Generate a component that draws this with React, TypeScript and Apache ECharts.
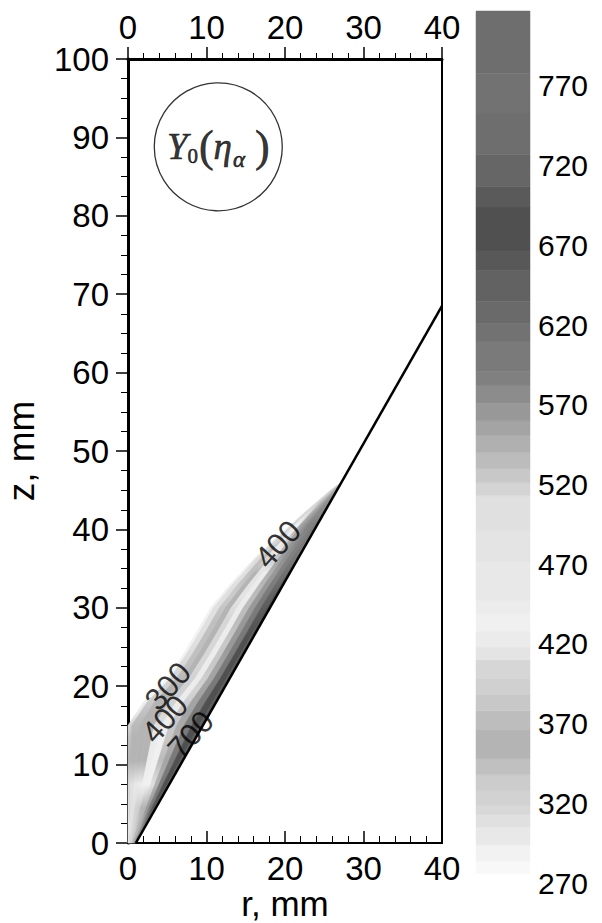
import React, { useEffect, useRef } from "react";
import * as echarts from "echarts";

// ---------- data ----------
const cbTickLabels = [270, 320, 370, 420, 470, 520, 570, 620, 670, 720, 770];

// cone wall (r, z)
const wallLine = [
  [1, 0],
  [40, 68.5],
];

// stations along z for the shaded band; outer edge radius at each station
const stationZ = [0, 3, 6, 9, 12, 15, 18, 21, 24, 27, 30, 33, 36, 39, 42, 45, 46];
const stationROuter = [0, 0, 0, 0, 0, 0, 2.0, 5.0, 7.0, 8.8, 10.5, 13.0, 15.8, 19.0, 22.3, 25.8, 27.2];

// field values across each band (between two stations) at 11 nodes, from the outer edge to the wall
const fieldNodes = [
  [300, 303, 308, 314, 322, 334, 348, 356, 560, 590, 615],
  [305, 308, 312, 320, 334, 350, 358, 560, 605, 665, 698],
  [314, 308, 300, 440, 436, 432, 510, 548, 592, 668, 700],
  [348, 352, 356, 350, 440, 432, 530, 552, 598, 678, 700],
  [342, 352, 360, 352, 420, 438, 522, 548, 592, 678, 700],
  [298, 338, 356, 355, 400, 440, 522, 552, 592, 672, 700],
  [290, 326, 350, 358, 395, 440, 518, 552, 592, 672, 695],
  [288, 318, 346, 358, 398, 440, 522, 558, 594, 672, 695],
  [288, 312, 342, 358, 402, 440, 528, 562, 596, 672, 695],
  [288, 310, 338, 358, 406, 440, 532, 564, 596, 662, 690],
  [288, 308, 334, 356, 410, 440, 536, 566, 594, 648, 682],
  [292, 310, 338, 354, 415, 440, 542, 566, 590, 618, 652],
  [296, 315, 342, 420, 440, 550, 570, 581, 587, 593, 606],
  [303, 325, 436, 438, 553, 569, 579, 584, 587, 591, 596],
  [306, 316, 330, 344, 542, 557, 569, 576, 579, 581, 583],
  [310, 314, 318, 326, 336, 346, 354, 545, 550, 555, 558],
];

// contour labels: r, z, text
const contourLabels = [
  [5.1, 20.0, "300"],
  [4.7, 15.8, "400"],
  [8.0, 13.8, "700"],
  [19.1, 38.1, "400"],
];

// annotation circle centre (r, z)
const circlePos = [[11.5, 88.8]];

// colour bar levels (boundaries) and greys
const cbBreaks = [
  276, 284, 294, 305, 313, 319, 328, 338, 348, 366, 378, 388, 398, 410, 418, 428, 439, 447, 472, 491,
  513, 521, 530, 540, 551, 560, 571, 582, 591, 610, 621, 635, 654, 667, 694, 707, 727, 753, 778, 817,
];
const cbColors = [
  "#f8f8f8", "#f2f2f2", "#e8e8e8", "#e0e0e0", "#d8d8d8", "#d2d2d2", "#cccccc", "#c0c0c0", "#b4b4b4",
  "#bdbdbd", "#c8c8c8", "#d0d0d0", "#d6d6d6", "#e4e4e4", "#ebebeb", "#f0f0f0", "#ececec", "#e8e8e8",
  "#e4e4e4", "#e0e0e0", "#d4d4d4", "#c8c8c8", "#bcbcbc", "#b0b0b0", "#a4a4a4", "#989898", "#8c8c8c",
  "#808080", "#7a7a7a", "#727272", "#6a6a6a", "#626262", "#585858", "#505050", "#5a5a5a", "#666666",
  "#6e6e6e", "#727272", "#6e6e6e",
];

const SANS = "Liberation Sans, Arial, sans-serif";
const SERIF = "Liberation Serif, Times New Roman, serif";

function colorOf(v: number) {
  if (v < cbBreaks[0]) return "#ffffff";
  for (let i = 0; i < cbColors.length; i++) {
    if (v >= cbBreaks[i] && v < cbBreaks[i + 1]) return cbColors[i];
  }
  return cbColors[cbColors.length - 1];
}

export default function App() {
  const ref = useRef<HTMLDivElement>(null);

  useEffect(() => {
    if (!ref.current) return;
    const chart = echarts.init(ref.current, null, { renderer: "svg" });

    const nNodes = fieldNodes[0].length;
    const nSt = stationZ.length;
    const zTop = stationZ[nSt - 1];
    const rWall = (z: number) =>
      wallLine[0][0] + ((z - wallLine[0][1]) * (wallLine[1][0] - wallLine[0][0])) / (wallLine[1][1] - wallLine[0][1]);

    // one strip per node column, running the whole length of the band
    const stripData = fieldNodes[0].map((_, j) => [j]);

    const cbData = cbColors.map((_, i) => [cbBreaks[i], cbBreaks[i + 1], (cbBreaks[i] + cbBreaks[i + 1]) / 2]);
    const pieces: any[] = cbColors.map((c, i) => ({ gte: cbBreaks[i], lt: cbBreaks[i + 1], color: c }));
    pieces.push({ lt: cbBreaks[0], color: "#ffffff" });

    const axisLabel = { color: "#000", fontFamily: SANS, fontSize: 33 };
    const serifBase = { fontFamily: SERIF, color: "#000", textBorderColor: "#000", textBorderWidth: 0.6 };

    chart.setOption({
      animation: false,
      backgroundColor: "#ffffff",
      grid: [
        { left: 128, top: 59, width: 314, height: 784, outerBoundsMode: "none", containLabel: false },
        { left: 476, top: 11, width: 54, height: 872, outerBoundsMode: "none", containLabel: false },
      ],
      visualMap: {
        type: "piecewise",
        show: false,
        dimension: 2,
        seriesIndex: [4],
        pieces,
      },
      xAxis: [
        {
          gridIndex: 0,
          type: "value",
          position: "bottom",
          min: 0,
          max: 40,
          interval: 10,
          name: "r, mm",
          nameLocation: "middle",
          nameGap: 45,
          nameMoveOverlap: false,
          nameTextStyle: { color: "#000", fontFamily: SANS, fontSize: 35, lineHeight: 30 },
          axisLine: { show: true, onZero: false, lineStyle: { color: "#000", width: 2 } },
          axisTick: { show: true, inside: true, length: 12, lineStyle: { color: "#000", width: 1.5 } },
          minorTick: { show: true, splitNumber: 5, length: 7, lineStyle: { color: "#000", width: 1 } },
          axisLabel: { ...axisLabel, margin: 9 },
          splitLine: { show: false },
          minorSplitLine: { show: false },
        },
        {
          gridIndex: 0,
          type: "value",
          position: "top",
          min: 0,
          max: 40,
          interval: 10,
          axisLine: { show: true, onZero: false, lineStyle: { color: "#000", width: 3 } },
          axisTick: { show: true, inside: false, length: 12, lineStyle: { color: "#000", width: 1.5 } },
          minorTick: { show: true, splitNumber: 5, length: 6, lineStyle: { color: "#000", width: 1 } },
          axisLabel: { ...axisLabel, margin: 15 },
          splitLine: { show: false },
        },
        { gridIndex: 1, type: "value", min: 0, max: 1, show: false },
      ],
      yAxis: [
        {
          gridIndex: 0,
          type: "value",
          position: "left",
          min: 0,
          max: 100,
          interval: 10,
          name: "z, mm",
          nameLocation: "middle",
          nameRotate: 90,
          nameGap: 88,
          nameMoveOverlap: false,
          nameTextStyle: { color: "#000", fontFamily: SANS, fontSize: 37 },
          axisLine: { show: true, onZero: false, lineStyle: { color: "#000", width: 3 } },
          axisTick: { show: true, inside: false, length: 12, lineStyle: { color: "#000", width: 1.5 } },
          minorTick: { show: true, splitNumber: 4, length: 7, lineStyle: { color: "#000", width: 1 } },
          axisLabel: { ...axisLabel, margin: 19 },
          splitLine: { show: false },
        },
        {
          gridIndex: 0,
          type: "value",
          position: "right",
          min: 0,
          max: 100,
          axisLine: { show: true, onZero: false, lineStyle: { color: "#000", width: 2 } },
          axisTick: { show: false },
          axisLabel: { show: false },
          splitLine: { show: false },
        },
        {
          gridIndex: 1,
          type: "value",
          position: "right",
          min: cbTickLabels[0],
          max: cbBreaks[cbBreaks.length - 1],
          interval: 50,
          axisLine: { show: false },
          axisTick: { show: false },
          axisLabel: { color: "#000", fontFamily: SANS, fontSize: 30, margin: 8, showMaxLabel: false },
          splitLine: { show: false },
        },
      ],
      series: [
        {
          type: "custom",
          xAxisIndex: 0,
          yAxisIndex: 0,
          data: stripData,
          renderItem: (params: any, api: any) => {
            const j = api.value(0);
            const sA = Math.max(0, (j - 0.5) / (nNodes - 1));
            const sB = Math.min(1, (j + 0.5) / (nNodes - 1));
            const pt = (k: number, s: number) => {
              const z = stationZ[k];
              const ro = stationROuter[k];
              const rw = rWall(z);
              return api.coord([ro + s * (rw - ro), z]);
            };
            const pts: number[][] = [];
            for (let k = 0; k < nSt; k++) pts.push(pt(k, sA));
            for (let k = nSt - 1; k >= 0; k--) pts.push(pt(k, sB));
            const yBottom = api.coord([0, 0])[1];
            const yTopPx = api.coord([0, zTop])[1];
            const stops = fieldNodes.map((row, i) => ({
              offset: (stationZ[i] + stationZ[i + 1]) / 2 / zTop,
              color: colorOf(row[j]),
            }));
            const grad = new echarts.graphic.LinearGradient(0, yBottom, 0, yTopPx, stops, true);
            return {
              type: "polygon",
              shape: { points: pts },
              style: { fill: grad, stroke: grad, lineWidth: 0.7 },
            };
          },
          z: 1,
        },
        {
          type: "line",
          xAxisIndex: 0,
          yAxisIndex: 0,
          data: wallLine,
          symbol: "none",
          lineStyle: { color: "#000", width: 2.5 },
          z: 5,
        },
        {
          type: "scatter",
          xAxisIndex: 0,
          yAxisIndex: 0,
          data: contourLabels,
          symbolSize: 1,
          itemStyle: { color: "rgba(0,0,0,0)" },
          label: {
            show: true,
            position: "inside",
            formatter: (p: any) => p.value[2],
            rotate: 48,
            color: "#000",
            fontFamily: SANS,
            fontSize: 31,
          },
          z: 6,
        },
        {
          type: "scatter",
          xAxisIndex: 0,
          yAxisIndex: 0,
          data: circlePos,
          symbol: "circle",
          symbolSize: 128,
          itemStyle: { color: "rgba(255,255,255,0)", borderColor: "#000", borderWidth: 1.3 },
          label: {
            show: true,
            position: "inside",
            formatter: "{y|Y}{s|0}{p|(}{e|η}{a|α}{q|)}",
            rich: {
              y: { ...serifBase, fontStyle: "italic", fontSize: 37, lineHeight: 48, verticalAlign: "middle" },
              s: { ...serifBase, fontSize: 21, lineHeight: 21, verticalAlign: "bottom", padding: [0, 1, 4, 0] },
              p: { ...serifBase, fontSize: 44, lineHeight: 48, verticalAlign: "middle" },
              e: { ...serifBase, fontStyle: "italic", fontSize: 37, lineHeight: 48, verticalAlign: "middle" },
              a: { ...serifBase, fontStyle: "italic", fontSize: 23, lineHeight: 22, verticalAlign: "bottom", padding: [0, 10, 0, 1] },
              q: { ...serifBase, fontSize: 44, lineHeight: 48, verticalAlign: "middle" },
            },
          },
          z: 6,
        },
        {
          type: "custom",
          xAxisIndex: 2,
          yAxisIndex: 2,
          data: cbData,
          renderItem: (params: any, api: any) => {
            const p0 = api.coord([0, api.value(0)]);
            const p1 = api.coord([1, api.value(1)]);
            const color = api.visual("color");
            return {
              type: "rect",
              shape: { x: p0[0], y: p1[1], width: p1[0] - p0[0], height: p0[1] - p1[1] },
              style: { fill: color, stroke: color, lineWidth: 0.5 },
            };
          },
        },
      ],
    });

    return () => chart.dispose();
  }, []);

  return <div ref={ref} style={{ position: "absolute", left: 0, top: 0, width: 602, height: 923 }} />;
}
